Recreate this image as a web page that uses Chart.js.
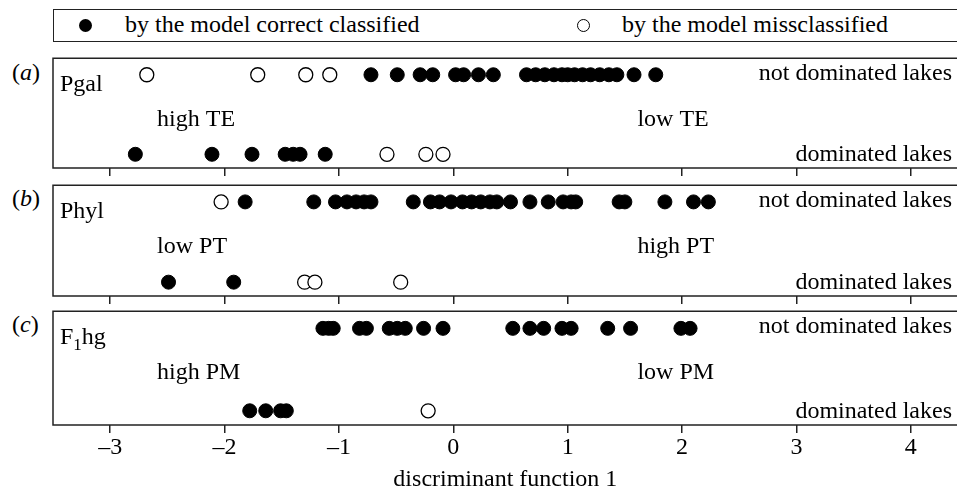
<!DOCTYPE html>
<html>
<head>
<meta charset="utf-8">
<script src="https://cdn.jsdelivr.net/npm/chart.js@4/dist/chart.umd.min.js"></script>
<style>
  html, body { margin: 0; padding: 0; background: #fff; overflow: hidden; width: 957px; height: 488px; }
  body { position: relative; font-family: "Liberation Serif", "Times New Roman", serif; font-size: 24px; color: #000; }
  .legend-box { position: absolute; left: 53px; top: 9px; width: 940px; height: 31px; border: 1.5px solid #222; }
  .dot { position: absolute; width: 13px; height: 13px; border-radius: 50%; box-sizing: border-box; }
  .dot.full { background: #000; }
  .dot.open { background: #fff; border: 1.3px solid #000; }
  .txt { position: absolute; line-height: 28px; white-space: nowrap; }
  canvas { position: absolute; left: 0; }
</style>
</head>
<body>

<div class="legend-box"></div>
<div class="dot full" style="left:79px;top:19px"></div>
<div class="txt" style="left:125px;top:10px">by the model correct classified</div>
<div class="dot open" style="left:577px;top:19px"></div>
<div class="txt" style="left:622px;top:10px">by the model missclassified</div>

<div class="txt" style="left:12px;top:58px">(<i>a</i>)</div>
<div class="txt" style="left:12px;top:184px">(<i>b</i>)</div>
<div class="txt" style="left:12px;top:310px">(<i>c</i>)</div>

<canvas id="panelA" width="966" height="130" style="top:50px"></canvas>
<canvas id="panelB" width="966" height="131" style="top:177px"></canvas>
<canvas id="panelC" width="966" height="200" style="top:303px"></canvas>

<script>
// ── data: discriminant scores ───────────────────────────────────
const xTicks = [-3, -2, -1, 0, 1, 2, 3, 4];

// (a) Pgal
const pgalNotDomCorrect = [-0.72, -0.49, -0.29, -0.18, 0.02, 0.09, 0.22, 0.35, 0.64, 0.72, 0.80, 0.88, 0.95, 1.00, 1.06, 1.13, 1.20, 1.28, 1.36, 1.43, 1.58, 1.77];
const pgalNotDomMiss    = [-2.68, -1.71, -1.29, -1.08];
const pgalDomCorrect    = [-2.78, -2.11, -1.76, -1.47, -1.40, -1.34, -1.12];
const pgalDomMiss       = [-0.58, -0.24, -0.09];

// (b) Phyl
const phylNotDomCorrect = [-1.82, -1.22, -1.03, -0.93, -0.85, -0.78, -0.72, -0.35, -0.20, -0.12, -0.02, 0.08, 0.16, 0.24, 0.32, 0.38, 0.50, 0.67, 0.83, 0.96, 1.03, 1.07, 1.45, 1.50, 1.85, 2.10, 2.23];
const phylNotDomMiss    = [-2.03];
const phylDomCorrect    = [-2.49, -1.92];
const phylDomMiss       = [-1.30, -1.21, -0.46];

// (c) F1hg
const f1hgNotDomCorrect = [-1.14, -1.09, -1.05, -0.82, -0.76, -0.56, -0.49, -0.42, -0.26, -0.09, 0.52, 0.67, 0.79, 0.95, 1.03, 1.35, 1.55, 1.99, 2.07];
const f1hgNotDomMiss    = [];
const f1hgDomCorrect    = [-1.78, -1.64, -1.51, -1.46];
const f1hgDomMiss       = [-0.22];

// ── layout constants ─────────────────────────────────────────────
const X_MIN = -3.5, X_MAX = 4.41;
const ROW_NOT_DOM = 0.85, ROW_DOM = 0.125;
const LEFT_LABEL_X = -2.59, RIGHT_LABEL_X = 1.61;
const VIEW_RIGHT = 957;          // visible page edge; the frame runs past it
const LINE = '#222';
const FONT = '"Liberation Serif", "Times New Roman", serif';

Chart.defaults.font.family = FONT;
Chart.defaults.color = '#000';

// frame + in-panel labels
const panelDeco = {
  id: 'panelDeco',
  afterDraw(chart, args, o) {
    const { ctx, chartArea: a, scales: { x } } = chart;
    ctx.save();
    ctx.strokeStyle = LINE;
    ctx.lineWidth = 1.5;
    ctx.beginPath();
    ctx.moveTo(chart.width + 5, a.top);
    ctx.lineTo(a.left, a.top);
    ctx.lineTo(a.left, a.bottom);
    ctx.lineTo(chart.width + 5, a.bottom);
    ctx.stroke();

    ctx.fillStyle = '#000';
    ctx.font = '24px ' + FONT;
    ctx.textBaseline = 'alphabetic';
    ctx.textAlign = 'left';
    // panel name (F1hg has a subscript)
    let nx = a.left + 7;
    const ny = a.top + 33;
    o.name.forEach(part => {
      ctx.font = (part.sub ? '17px ' : '24px ') + FONT;
      ctx.fillText(part.t, nx, ny + (part.sub ? 6 : 0));
      nx += ctx.measureText(part.t).width;
    });
    ctx.font = '24px ' + FONT;
    ctx.fillText(o.left, x.getPixelForValue(LEFT_LABEL_X), a.top + 68);
    ctx.fillText(o.right, x.getPixelForValue(RIGHT_LABEL_X), a.top + 68);
    ctx.textAlign = 'right';
    const rx = Math.min(a.right, VIEW_RIGHT) - 5;
    ctx.fillText('not dominated lakes', rx, a.top + 22);
    ctx.fillText('dominated lakes', rx, a.bottom - 7);
    ctx.restore();
  }
};

const pts = (arr, y) => arr.map(v => ({ x: v, y }));

function buildPanel(id, rows, deco, last) {
  const full = { backgroundColor: '#000', borderColor: '#000', borderWidth: 1, pointRadius: 7 };
  const open = { backgroundColor: '#fff', borderColor: '#000', borderWidth: 1.3, pointRadius: 7 };
  return new Chart(document.getElementById(id), {
    type: 'scatter',
    data: {
      datasets: [
        { data: pts(rows.notDomCorrect, ROW_NOT_DOM), ...full },
        { data: pts(rows.domCorrect, ROW_DOM), ...full },
        { data: pts(rows.notDomMiss, ROW_NOT_DOM), ...open },
        { data: pts(rows.domMiss, ROW_DOM), ...open },
      ],
    },
    options: {
      responsive: false,
      animation: false,
      events: [],
      layout: { padding: { left: 53, right: 0, top: 5, bottom: last ? 4.4 : 4 } },
      scales: {
        x: {
          type: 'linear', min: X_MIN, max: X_MAX,
          afterBuildTicks: s => { s.ticks = xTicks.map(v => ({ value: v })); },
          ticks: {
            display: last, padding: 0, font: { size: 24 },
            callback: v => v < 0 ? '\u2013' + Math.abs(v) : String(v),
          },
          grid: { drawOnChartArea: false, drawTicks: true, tickLength: 8, color: LINE, lineWidth: 1.5 },
          border: { display: false },
          title: { display: last, text: 'discriminant function 1', font: { size: 24 }, color: '#000' },
        },
        y: { display: false, min: 0, max: 1 },
      },
      plugins: { legend: { display: false }, tooltip: { enabled: false }, panelDeco: deco },
    },
    plugins: [panelDeco],
  });
}

buildPanel('panelA',
  { notDomCorrect: pgalNotDomCorrect, notDomMiss: pgalNotDomMiss, domCorrect: pgalDomCorrect, domMiss: pgalDomMiss },
  { name: [{ t: 'Pgal' }], left: 'high TE', right: 'low TE' }, false);

buildPanel('panelB',
  { notDomCorrect: phylNotDomCorrect, notDomMiss: phylNotDomMiss, domCorrect: phylDomCorrect, domMiss: phylDomMiss },
  { name: [{ t: 'Phyl' }], left: 'low PT', right: 'high PT' }, false);

buildPanel('panelC',
  { notDomCorrect: f1hgNotDomCorrect, notDomMiss: f1hgNotDomMiss, domCorrect: f1hgDomCorrect, domMiss: f1hgDomMiss },
  { name: [{ t: 'F' }, { t: '1', sub: true }, { t: 'hg' }], left: 'high PM', right: 'low PM' }, true);
</script>
</body>
</html>
